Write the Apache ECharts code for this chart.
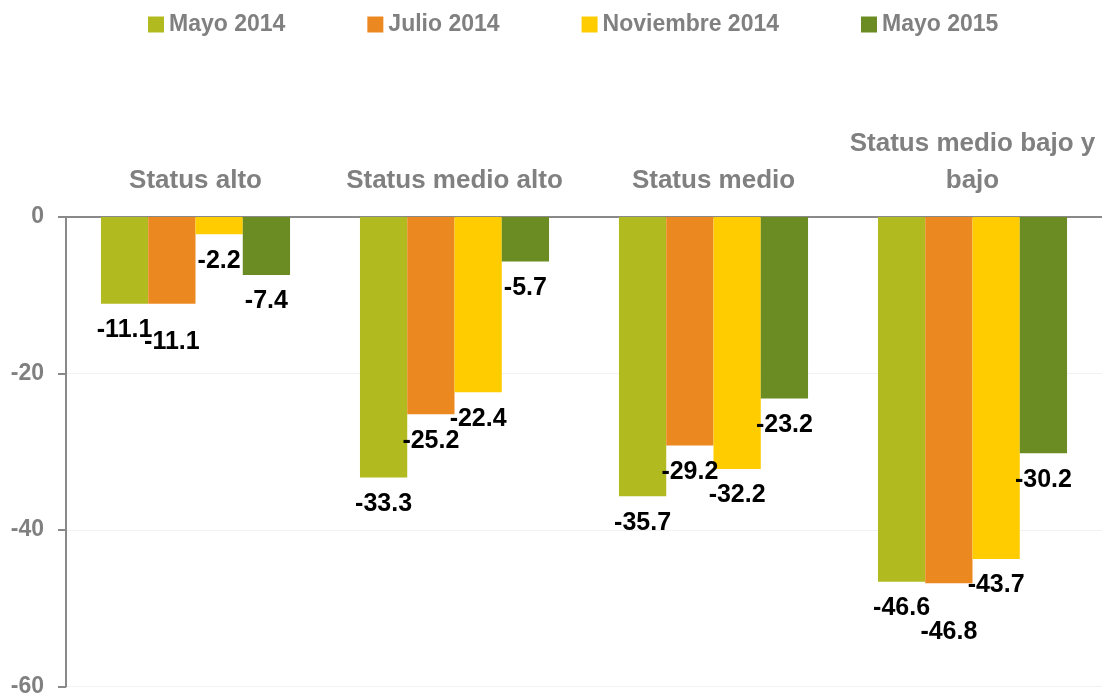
<!DOCTYPE html>
<html lang="es">
<head>
<meta charset="UTF-8">
<title>chart</title>
<script src="https://cdn.jsdelivr.net/npm/echarts@6/dist/echarts.min.js"></script>
<style>
  html, body { margin: 0; padding: 0; background: #fff; }
  #container { width: 1102px; height: 698px; }
</style>
</head>
<body>
<div id="container"></div>
<script>
// datos
const categories = ['Status alto', 'Status medio alto', 'Status medio', 'Status medio bajo y\nbajo']
const seriesNames = ['Mayo 2014', 'Julio 2014', 'Noviembre 2014', 'Mayo 2015']
const mayo2014 = [-11.1, -33.3, -35.7, -46.6]
const julio2014 = [-11.1, -25.2, -29.2, -46.8]
const noviembre2014 = [-2.2, -22.4, -32.2, -43.7]
const mayo2015 = [-7.4, -5.7, -23.2, -30.2]
const yTicks = [0, -20, -40, -60]

const colors = ['#B1BB1F', '#EC8820', '#FFCC00', '#6B8C23']
const font = 'Liberation Sans, Arial, sans-serif'

// etiquetas desplazadas para que no se encimen (serie-categoria) -> px extra
const labelNudge = { '1-0': 12, '1-3': 22 }

const allValues = [mayo2014, julio2014, noviembre2014, mayo2015]

const series = allValues.map((vals, si) => ({
  name: seriesNames[si],
  type: 'bar',
  barGap: 0,
  barCategoryGap: '27%',
  itemStyle: { color: colors[si] },
  data: vals.map((v, ci) => ({
    value: v,
    label: { offset: [0, labelNudge[si + '-' + ci] || 0] }
  })),
  label: {
    show: true,
    position: 'bottom',
    distance: 14,
    color: '#000',
    fontFamily: font,
    fontWeight: 'bold',
    fontSize: 25,
    formatter: p => p.value.toFixed(1)
  }
}))

const chart = echarts.init(document.getElementById('container'))
chart.setOption({
  animation: false,
  backgroundColor: '#fff',
  legend: {
    top: 8,
    left: 143,
    itemWidth: 16,
    itemHeight: 16,
    itemGap: 82,
    icon: 'rect',
    textStyle: { color: '#808080', fontFamily: font, fontWeight: 'bold', fontSize: 23 },
    data: seriesNames
  },
  grid: { left: 66, right: 0, top: 217, bottom: 6, containLabel: false },
  xAxis: {
    type: 'category',
    position: 'top',
    data: categories,
    axisLine: { lineStyle: { color: '#898989', width: 2 } },
    axisTick: { inside: true, length: 8, lineStyle: { color: '#898989', width: 2 } },
    axisLabel: {
      color: '#808080',
      fontFamily: font,
      fontWeight: 'bold',
      fontSize: 26,
      lineHeight: 37,
      margin: 18,
      interval: 0
    }
  },
  yAxis: {
    type: 'value',
    min: yTicks[yTicks.length - 1],
    max: yTicks[0],
    interval: 20,
    axisLine: { show: true, lineStyle: { color: '#898989', width: 2 } },
    axisTick: { show: true, length: 8, lineStyle: { color: '#898989', width: 2 } },
    splitLine: { lineStyle: { color: '#f2f2f2', width: 1 } },
    axisLabel: {
      color: '#808080',
      fontFamily: font,
      fontWeight: 'bold',
      fontSize: 23,
      margin: 22
    }
  },
  series: series
})
</script>
</body>
</html>
